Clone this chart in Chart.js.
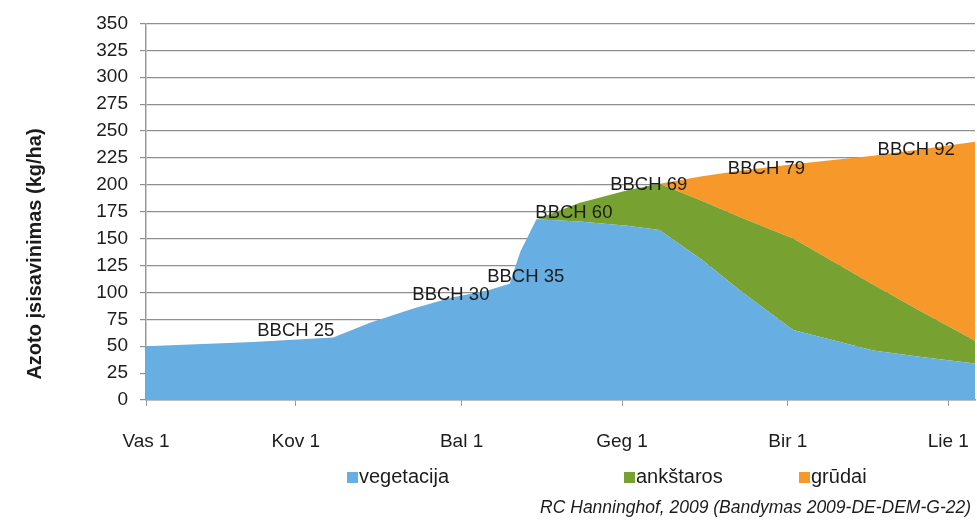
<!DOCTYPE html>
<html>
<head>
<meta charset="utf-8">
<script src="https://cdn.jsdelivr.net/npm/chart.js@4/dist/chart.umd.min.js"></script>
<style>
  html, body { margin: 0; padding: 0; background: #fff; overflow: hidden; }
  #wrap { position: relative; width: 977px; height: 523px; }
  #wrap canvas { display: block; }
</style>
</head>
<body>
<div id="wrap"><canvas id="c"></canvas></div>
<script>
// days counted from Feb 1
const days   = [0, 20, 35, 42, 50, 57, 64, 68, 70, 73, 81, 90, 96, 104, 111, 121, 136, 145, 155];
const vegetacija = [50, 54, 58, 72, 85, 95, 102, 108, 138, 168, 166, 162, 158, 130, 102, 65, 46, 40, 34];
const ankstaros  = [0, 0, 0, 0, 0, 0, 0, 0, 0, 0, 17, 33, 43, 55, 68, 85, 61, 42, 21];
const grudai     = [0, 0, 0, 0, 0, 0, 0, 0, 0, 0, 0, 0, 0, 23, 43, 69, 120, 151, 185];

const monthDays   = [0, 28, 59, 89, 120, 150];
const monthLabels = ['Vas 1', 'Kov 1', 'Bal 1', 'Geg 1', 'Bir 1', 'Lie 1'];

const bbchNames = ['BBCH 25', 'BBCH 30', 'BBCH 35', 'BBCH 60', 'BBCH 69', 'BBCH 79', 'BBCH 92'];
const bbchDay   = [28, 57, 71, 80, 94, 116, 144];
const bbchVal   = [64, 98, 114, 174, 200, 215, 232];

const seriesNames  = ['vegetacija', 'ankštaros', 'grūdai'];
const seriesColors = ['#67aee2', '#77a231', '#f7992a'];

const FONT = '"Liberation Sans", Arial, Helvetica, sans-serif';
const legendX = [347, 624, 799];

const pts = arr => days.map((d, i) => ({ x: d, y: arr[i] }));

const extras = {
  id: 'extras',
  afterDatasetsDraw(chart) {
    const { ctx, scales: { x, y } } = chart;
    ctx.save();
    // stage labels
    ctx.fillStyle = '#1c1c1c';
    ctx.font = '18.5px ' + FONT;
    ctx.textAlign = 'center';
    ctx.textBaseline = 'middle';
    bbchNames.forEach((t, i) => {
      ctx.fillText(t, x.getPixelForValue(bbchDay[i]), y.getPixelForValue(bbchVal[i]));
    });
    ctx.restore();
  },
  afterDraw(chart) {
    const { ctx } = chart;
    ctx.save();
    // y title
    ctx.fillStyle = '#1c1c1c';
    ctx.font = 'bold 20px ' + FONT;
    ctx.translate(35, 254);
    ctx.rotate(-Math.PI / 2);
    ctx.textAlign = 'center';
    ctx.textBaseline = 'middle';
    ctx.fillText('Azoto įsisavinimas (kg/ha)', 0, 0);
    ctx.restore();

    // legend
    ctx.save();
    ctx.font = '20px ' + FONT;
    ctx.textBaseline = 'alphabetic';
    ctx.textAlign = 'left';
    seriesNames.forEach((n, i) => {
      ctx.fillStyle = seriesColors[i];
      ctx.fillRect(legendX[i], 472, 11, 11);
      ctx.fillStyle = '#1c1c1c';
      ctx.fillText(n, legendX[i] + 12, 483);
    });

    // source note
    ctx.font = 'italic 17.5px ' + FONT;
    ctx.textAlign = 'right';
    ctx.fillText('RC Hanninghof, 2009 (Bandymas 2009-DE-DEM-G-22)', 971, 513);
    ctx.restore();
  }
};

new Chart(document.getElementById('c'), {
  type: 'line',
  data: {
    datasets: [vegetacija, ankstaros, grudai].map((arr, i) => ({
      label: seriesNames[i],
      data: pts(arr),
      backgroundColor: seriesColors[i],
      borderWidth: 0,
      pointRadius: 0,
      tension: 0,
      fill: i === 0 ? 'origin' : '-1',
    })),
  },
  options: {
    responsive: true, maintainAspectRatio: false,
    animation: false,
    layout: { padding: { top: 23, right: 2, left: 0, bottom: 0 } },
    plugins: { legend: { display: false }, tooltip: { enabled: false } },
    scales: {
      x: {
        type: 'linear', min: 0, max: 155,
        afterBuildTicks: s => { s.ticks = monthDays.map(v => ({ value: v })); },
        afterFit: s => { s.height = 123; s.paddingRight = 0; s.paddingLeft = 0; },
        ticks: {
          autoSkip: false, maxRotation: 0, padding: 24,
          color: '#1c1c1c', font: { family: FONT, size: 19 },
          callback: v => monthLabels[monthDays.indexOf(v)],
        },
        grid: { drawOnChartArea: false, drawTicks: true, tickLength: 6, color: '#9a9a9a' },
        border: { color: '#9a9a9a', width: 1.5 },
      },
      y: {
        stacked: true, min: 0, max: 350,
        afterFit: s => { s.width = 146; },
        ticks: {
          stepSize: 25, autoSkip: false, padding: 12,
          color: '#1c1c1c', font: { family: FONT, size: 19 },
        },
        grid: { color: '#8f8f8f', lineWidth: 1.2, tickLength: 6 },
        border: { color: '#9a9a9a', width: 1.5 },
      },
    },
  },
  plugins: [extras],
});
</script>
</body>
</html>
